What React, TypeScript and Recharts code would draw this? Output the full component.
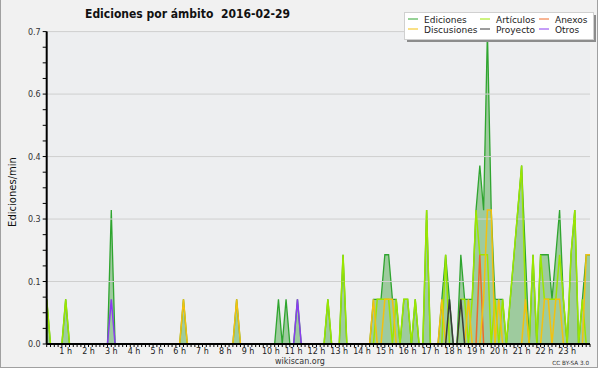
import React from "react"
import { ComposedChart, Area, Line, XAxis, YAxis, CartesianGrid, ReferenceLine } from "recharts"

// ediciones por intervalo de 10 minutos (00:00 ... 23:50), 144 intervalos
const ediciones = [
  1,0,0,0,0,1,0,0,0,0,0,0,0,0,0,0,0,3,0,0,0,0,0,0,
  0,0,0,0,0,0,0,0,0,0,0,0,1,0,0,0,0,0,0,0,0,0,0,0,
  0,0,1,0,0,0,0,0,0,0,0,0,0,1,0,1,0,0,1,0,0,0,0,0,
  0,0,1,0,0,0,2,0,0,0,0,0,0,0,1,1,1,2,2,1,1,0,1,1,
  0,1,0,0,3,0,0,0,1,2,1,0,0,2,1,1,1,3,4,3,7,3,1,1,
  1,0,1,2,3,4,2,0,2,0,2,2,2,1,2,3,1,0,2,3,0,1,2,2,
]
const articulos = [
  1,0,0,0,0,1,0,0,0,0,0,0,0,0,0,0,0,0,0,0,0,0,0,0,
  0,0,0,0,0,0,0,0,0,0,0,0,0,0,0,0,0,0,0,0,0,0,0,0,
  0,0,0,0,0,0,0,0,0,0,0,0,0,0,0,0,0,0,0,0,0,0,0,0,
  0,0,1,0,0,0,2,0,0,0,0,0,0,0,0,1,1,1,1,0,1,0,1,1,
  0,1,0,0,3,0,0,0,0,2,0,0,0,1,1,0,1,3,2,2,2,0,1,0,
  1,0,1,2,3,4,1,0,2,0,2,1,1,1,1,2,1,0,2,3,0,1,0,0,
]
const anexos = [
  0,0,0,0,0,0,0,0,0,0,0,0,0,0,0,0,0,0,0,0,0,0,0,0,
  0,0,0,0,0,0,0,0,0,0,0,0,0,0,0,0,0,0,0,0,0,0,0,0,
  0,0,0,0,0,0,0,0,0,0,0,0,0,0,0,0,0,0,0,0,0,0,0,0,
  0,0,0,0,0,0,0,0,0,0,0,0,0,0,0,0,0,0,0,0,0,0,0,0,
  0,0,0,0,0,0,0,0,0,0,0,0,0,0,0,0,0,0,2,0,0,0,0,0,
  0,0,0,0,0,0,0,0,0,0,0,0,0,0,0,0,0,0,0,0,0,0,0,0,
]
const discusiones = [
  0,0,0,0,0,0,0,0,0,0,0,0,0,0,0,0,0,0,0,0,0,0,0,0,
  0,0,0,0,0,0,0,0,0,0,0,0,1,0,0,0,0,0,0,0,0,0,0,0,
  0,0,1,0,0,0,0,0,0,0,0,0,0,0,0,0,0,0,0,0,0,0,0,0,
  0,0,0,0,0,0,0,0,0,0,0,0,0,0,1,0,0,1,1,1,0,0,0,0,
  0,0,0,0,0,0,0,0,1,0,0,0,0,0,0,1,0,0,0,1,3,3,0,1,
  0,0,0,0,0,0,1,0,0,0,0,1,1,0,1,1,0,0,0,0,0,0,2,2,
]
const proyecto = [
  0,0,0,0,0,0,0,0,0,0,0,0,0,0,0,0,0,0,0,0,0,0,0,0,
  0,0,0,0,0,0,0,0,0,0,0,0,0,0,0,0,0,0,0,0,0,0,0,0,
  0,0,0,0,0,0,0,0,0,0,0,0,0,0,0,0,0,0,0,0,0,0,0,0,
  0,0,0,0,0,0,0,0,0,0,0,0,0,0,0,0,0,0,0,0,0,0,0,0,
  0,0,0,0,0,0,0,0,0,0,1,0,0,1,0,0,0,0,0,0,0,0,0,0,
  0,0,0,0,0,0,0,0,0,0,0,0,0,0,0,0,0,0,0,0,0,0,0,0,
]
const otros = [
  0,0,0,0,0,0,0,0,0,0,0,0,0,0,0,0,0,1,0,0,0,0,0,0,
  0,0,0,0,0,0,0,0,0,0,0,0,0,0,0,0,0,0,0,0,0,0,0,0,
  0,0,0,0,0,0,0,0,0,0,0,0,0,0,0,0,0,0,1,0,0,0,0,0,
  0,0,0,0,0,0,0,0,0,0,0,0,0,0,0,0,0,0,0,0,0,0,0,0,
  0,0,0,0,0,0,0,0,0,0,0,0,0,0,0,0,0,0,0,0,0,0,0,0,
  0,0,0,0,0,0,0,0,0,0,0,0,0,0,0,0,0,0,0,0,0,0,0,0,
]

const hourLabels = [
  "1 h", "2 h", "3 h", "4 h", "5 h", "6 h", "7 h", "8 h", "9 h", "10 h", "11 h", "12 h",
  "13 h", "14 h", "15 h", "16 h", "17 h", "18 h", "19 h", "20 h", "21 h", "22 h", "23 h",
]
const yMajor = [0, 0.14, 0.28, 0.42, 0.56, 0.7]
const yMajorLabels = ["0.0", "0.1", "0.3", "0.4", "0.6", "0.7"]
const yMinor = [0.035, 0.07, 0.105, 0.175, 0.21, 0.245, 0.315, 0.35, 0.385, 0.455, 0.49, 0.525, 0.595, 0.63, 0.665]

const series = [
  { key: "ediciones", name: "Ediciones", color: "#2fa52f" },
  { key: "articulos", name: "Artículos", color: "#9be600" },
  { key: "anexos", name: "Anexos", color: "#f06a28" },
  { key: "discusiones", name: "Discusiones", color: "#f3c10f" },
  { key: "proyecto", name: "Proyecto", color: "#3a3a3a" },
  { key: "otros", name: "Otros", color: "#8a3cf0" },
]

const data = ediciones.map((v, i) => ({
  i,
  ediciones: v / 10,
  articulos: articulos[i] / 10,
  anexos: anexos[i] / 10,
  discusiones: discusiones[i] / 10,
  proyecto: proyecto[i] / 10,
  otros: otros[i] / 10,
}))

const xTicks = data.map((d) => d.i)
// etiqueta de la hora h bajo el intervalo 6h-1
const hourAt: Record<number, string> = {}
hourLabels.forEach((l, k) => { hourAt[6 * (k + 1) - 1] = l })

const yTicks = [...yMajor, ...yMinor].sort((a, b) => a - b)

const font = "'DejaVu Sans', sans-serif"

const HourTick = (props: any) => {
  const { x, y, payload } = props
  const label = hourAt[payload.value]
  if (!label) return <g />
  return (
    <text x={x} y={y} dy={5} textAnchor="middle" fontSize={8} fontFamily={font} fill="#222">
      {label}
    </text>
  )
}

const ValueTick = (props: any) => {
  const { x, y, payload } = props
  const idx = yMajor.findIndex((m) => Math.abs(m - payload.value) < 1e-6)
  if (idx < 0) return <g />
  return (
    <text x={x} y={y} dy={3} textAnchor="end" fontSize={8} fontFamily={font} fill="#333">
      {yMajorLabels[idx]}
    </text>
  )
}

const legendCols = [
  [series[0], series[3]],
  [series[1], series[4]],
  [series[2], series[5]],
]
const legendX = [408, 480, 539]

export default function App() {
  return (
    <div style={{ position: "relative", width: 600, height: 370, background: "#fff" }}>
      <style>{`body{margin:0}`}</style>
      <div
        style={{
          position: "absolute", left: 0, top: 0, width: 596, height: 367,
          background: "#f1f1f1", borderLeft: "1px solid #a0a0a0",
          borderRight: "1px solid #a0a0a0", borderBottom: "1px solid #a0a0a0",
        }}
      />
      <div style={{ position: "absolute", left: 0, top: 0 }}>
        <ComposedChart width={600} height={370} data={data} margin={{ top: 31.6, right: 10, left: 6.7, bottom: 10 }}>
          <CartesianGrid fill="#edeef0" stroke="none" horizontal={false} vertical={false} />
          {yMajor.slice(1).map((v) => (
            <ReferenceLine key={v} y={v} stroke="#cfcfcf" strokeWidth={1} />
          ))}
          <Area
            type="linear"
            dataKey="ediciones"
            name="Ediciones"
            stroke={series[0].color}
            strokeWidth={1.3}
            fill="#9ecb9e"
            fillOpacity={1}
            isAnimationActive={false}
            dot={false}
            activeDot={false}
          />
          {series.slice(1).map((s) => (
            <Line
              key={s.key}
              type="linear"
              dataKey={s.key}
              name={s.name}
              stroke={s.color}
              strokeWidth={1.5}
              dot={false}
              activeDot={false}
              isAnimationActive={false}
            />
          ))}
          <XAxis
            type="number"
            dataKey="i"
            domain={[0, 143]}
            ticks={xTicks}
            interval={0}
            height={16}
            tickSize={3}
            tickMargin={2}
            axisLine={{ stroke: "#000", strokeWidth: 2 }}
            tickLine={{ stroke: "#000" }}
            tick={HourTick}
          />
          <YAxis
            type="number"
            domain={[0, 0.7]}
            ticks={yTicks}
            interval={0}
            width={40}
            tickSize={4}
            tickMargin={2}
            axisLine={{ stroke: "#000", strokeWidth: 2 }}
            tickLine={{ stroke: "#000" }}
            tick={ValueTick}
          />
        </ComposedChart>
      </div>
      <svg width={600} height={370} style={{ position: "absolute", left: 0, top: 0, pointerEvents: "none" }}>
        <text
          x={85}
          y={18}
          fontSize={12}
          fontWeight="bold"
          fontFamily={font}
          fill="#111"
          textLength={205}
          lengthAdjust="spacingAndGlyphs"
          style={{ whiteSpace: "pre" }}
        >
          {"Ediciones por ámbito  2016-02-29"}
        </text>
        <text
          transform="translate(16,192) rotate(-90)"
          textAnchor="middle"
          fontSize={10}
          fontFamily={font}
          fill="#111"
        >
          Ediciones/min
        </text>
        <text x={300} y={364} textAnchor="middle" fontSize={8} fontFamily={font} fill="#333">
          wikiscan.org
        </text>
        <text x={589} y={365} textAnchor="end" fontSize={5.7} fontFamily={font} fill="#333">
          CC BY-SA 3.0
        </text>
        <rect x={407} y={15} width={189} height={27} fill="#8c8c8c" />
        <rect x={404.5} y={12.5} width={189} height={27} fill="#fff" stroke="#d0d0d0" />
        {legendCols.map((col, c) =>
          col.map((s, r) => (
            <g key={s.key}>
              <line x1={legendX[c]} x2={legendX[c] + 10} y1={19 + r * 10} y2={19 + r * 10} stroke={s.color} strokeWidth={1} />
              <text x={legendX[c] + 16} y={22.5 + r * 10} fontSize={9} fontFamily={font} fill="#222">
                {s.name}
              </text>
            </g>
          ))
        )}
      </svg>
    </div>
  )
}
